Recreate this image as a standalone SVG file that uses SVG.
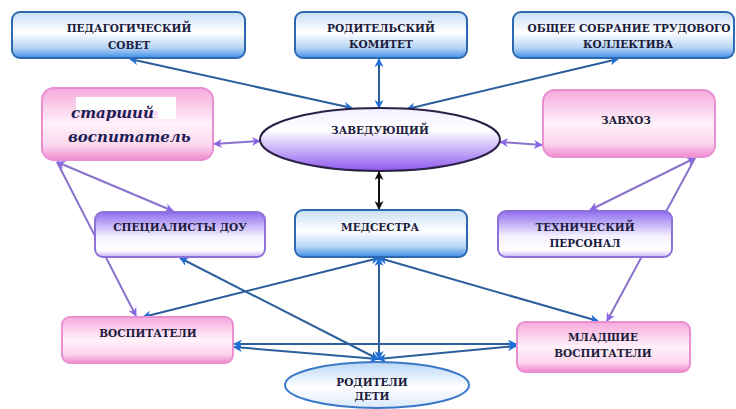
<svg xmlns="http://www.w3.org/2000/svg" width="736" height="409" viewBox="0 0 736 409">
<defs>
<linearGradient id="gBlue" x1="0" y1="0" x2="0" y2="1">
<stop offset="0" stop-color="#c9def6"/><stop offset="0.45" stop-color="#ffffff"/><stop offset="0.78" stop-color="#b5d4f5"/><stop offset="1" stop-color="#3f8fe6"/>
</linearGradient>
<linearGradient id="gPink" x1="0" y1="0" x2="0" y2="1">
<stop offset="0" stop-color="#f6a9dc"/><stop offset="0.5" stop-color="#fff2fa"/><stop offset="0.8" stop-color="#fcd6ee"/><stop offset="1" stop-color="#f189cf"/>
</linearGradient>
<linearGradient id="gViolet" x1="0" y1="0" x2="0" y2="1">
<stop offset="0" stop-color="#8d6cee"/><stop offset="0.55" stop-color="#f5f1ff"/><stop offset="0.85" stop-color="#ffffff"/><stop offset="1" stop-color="#c9b6f6"/>
</linearGradient>
<linearGradient id="gBoss" x1="0" y1="0" x2="0" y2="1">
<stop offset="0" stop-color="#f3efff"/><stop offset="0.35" stop-color="#ffffff"/><stop offset="0.7" stop-color="#c2a6f7"/><stop offset="1" stop-color="#8f58ee"/>
</linearGradient>
<linearGradient id="gParents" x1="0" y1="0" x2="0" y2="1">
<stop offset="0" stop-color="#b9d6f6"/><stop offset="0.55" stop-color="#ffffff"/><stop offset="1" stop-color="#d9e9fb"/>
</linearGradient>
<marker id="aBlue" viewBox="0 0 10 10" refX="9" refY="5" markerWidth="10" markerHeight="9" markerUnits="userSpaceOnUse" orient="auto-start-reverse">
<path d="M0,0 L10,5 L0,10 L3,5 z" fill="#1f6fd6"/>
</marker>
<marker id="aViolet" viewBox="0 0 10 10" refX="9" refY="5" markerWidth="10" markerHeight="9" markerUnits="userSpaceOnUse" orient="auto-start-reverse">
<path d="M0,0 L10,5 L0,10 L3,5 z" fill="#8a66e6"/>
</marker>
<marker id="aBlack" viewBox="0 0 10 10" refX="9" refY="5" markerWidth="10" markerHeight="9" markerUnits="userSpaceOnUse" orient="auto-start-reverse">
<path d="M0,0 L10,5 L0,10 L3,5 z" fill="#111111"/>
</marker>
</defs>
<style>
text{font-family:"DejaVu Serif","Liberation Serif",serif}
.lbl{font-weight:bold;font-size:10.5px;fill:#1c1c3c;text-anchor:middle}
.ital{font-weight:bold;font-style:italic;font-size:15px;fill:#1e1e55}
.blueBox{fill:url(#gBlue);stroke:#2d69b0;stroke-width:2}
.pinkBox{fill:url(#gPink);stroke:#e98fd2;stroke-width:2}
.violetBox{fill:url(#gViolet);stroke:#8d70d8;stroke-width:2}
.cb{stroke:#2b5f9c;stroke-width:2;fill:none;marker-start:url(#aBlue);marker-end:url(#aBlue)}
.cv{stroke:#8a72cc;stroke-width:2;fill:none}
.cvs{marker-start:url(#aViolet);marker-end:url(#aViolet)}
.cve{marker-end:url(#aViolet)}
.ck{stroke:#111;stroke-width:2;fill:none;marker-start:url(#aBlack);marker-end:url(#aBlack)}
</style>
<rect width="736" height="409" fill="#ffffff"/>
<g id="connectors">
<line class="cb" x1="130" y1="59" x2="352" y2="108"/>
<line class="cb" x1="379" y1="59" x2="379" y2="108"/>
<line class="cb" x1="618" y1="59" x2="407" y2="109"/>
<line class="cv cvs" x1="214" y1="144" x2="260" y2="141"/>
<line class="cv cvs" x1="500" y1="142" x2="542" y2="145"/>
<line class="ck" x1="379" y1="172" x2="379" y2="209"/>
<line class="cv cvs" x1="57" y1="162" x2="173" y2="211"/>
<line class="cv cve" x1="57" y1="162" x2="136" y2="316"/>
<line class="cv cvs" x1="695" y1="158" x2="590" y2="210"/>
<line class="cv cve" x1="695" y1="158" x2="607" y2="321"/>
<line class="cb" x1="234" y1="344" x2="516" y2="344"/>
<line class="cb" x1="378" y1="359" x2="234" y2="347"/>
<line class="cb" x1="378" y1="359" x2="516" y2="346"/>
<line class="cb" x1="378" y1="359" x2="180" y2="258"/>
<line class="cb" x1="379" y1="359" x2="379" y2="258"/>
<line class="cb" x1="379" y1="258" x2="143" y2="317"/>
<line class="cb" x1="379" y1="258" x2="598" y2="321"/>
</g>
<g id="ped-sovet">
<rect class="blueBox" x="12" y="12" width="233" height="46" rx="8"/>
<text class="lbl" x="129" y="32">ПЕДАГОГИЧЕСКИЙ</text>
<text class="lbl" x="129" y="49">СОВЕТ</text>
</g>
<g id="rod-komitet">
<rect class="blueBox" x="295" y="12" width="172" height="46" rx="8"/>
<text class="lbl" x="381" y="32">РОДИТЕЛЬСКИЙ</text>
<text class="lbl" x="381" y="48">КОМИТЕТ</text>
</g>
<g id="obshchee-sobranie">
<rect class="blueBox" x="513" y="12" width="221" height="46" rx="8"/>
<text class="lbl" x="629" y="32">ОБЩЕЕ СОБРАНИЕ ТРУДОВОГО</text>
<text class="lbl" x="628" y="48">КОЛЛЕКТИВА</text>
</g>
<g id="starshiy-vospitatel">
<rect class="pinkBox" x="42" y="88" width="171" height="72" rx="12"/>
<rect x="76" y="97" width="100" height="14" fill="#ffffff"/>
<rect x="158" y="109" width="18" height="10" fill="#ffffff"/>
<text class="ital" x="71" y="118">старший</text>
<text class="ital" x="68" y="142">воспитатель</text>
</g>
<g id="zaveduyushchiy">
<ellipse cx="380" cy="139.5" rx="120" ry="31.5" fill="url(#gBoss)" stroke="#2a2046" stroke-width="2"/>
<text class="lbl" x="380" y="134">ЗАВЕДУЮЩИЙ</text>
</g>
<g id="zavkhoz">
<rect class="pinkBox" x="543" y="90" width="172" height="67" rx="12"/>
<text class="lbl" x="626" y="124">ЗАВХОЗ</text>
</g>
<g id="spetsialisty">
<rect class="violetBox" x="95" y="212" width="170" height="45" rx="8"/>
<text class="lbl" x="180" y="231">СПЕЦИАЛИСТЫ ДОУ</text>
</g>
<g id="medsestra">
<rect class="blueBox" x="295" y="210" width="172" height="47" rx="8"/>
<text class="lbl" x="380" y="231">МЕДСЕСТРА</text>
</g>
<g id="tekh-personal">
<rect class="violetBox" x="498" y="211" width="174" height="46" rx="8"/>
<text class="lbl" x="585" y="231">ТЕХНИЧЕСКИЙ</text>
<text class="lbl" x="585" y="247">ПЕРСОНАЛ</text>
</g>
<g id="vospitateli">
<rect class="pinkBox" x="62" y="317" width="171" height="46" rx="8"/>
<text class="lbl" x="148" y="337">ВОСПИТАТЕЛИ</text>
</g>
<g id="mladshie-vospitateli">
<rect class="pinkBox" x="517" y="322" width="173" height="50" rx="8"/>
<text class="lbl" x="603" y="341">МЛАДШИЕ</text>
<text class="lbl" x="603" y="357">ВОСПИТАТЕЛИ</text>
</g>
<g id="roditeli-deti">
<ellipse cx="377" cy="385" rx="92" ry="23" fill="url(#gParents)" stroke="#3a78c8" stroke-width="2"/>
<text class="lbl" x="372" y="386">РОДИТЕЛИ</text>
<text class="lbl" x="372" y="400">ДЕТИ</text>
</g>
</svg>
